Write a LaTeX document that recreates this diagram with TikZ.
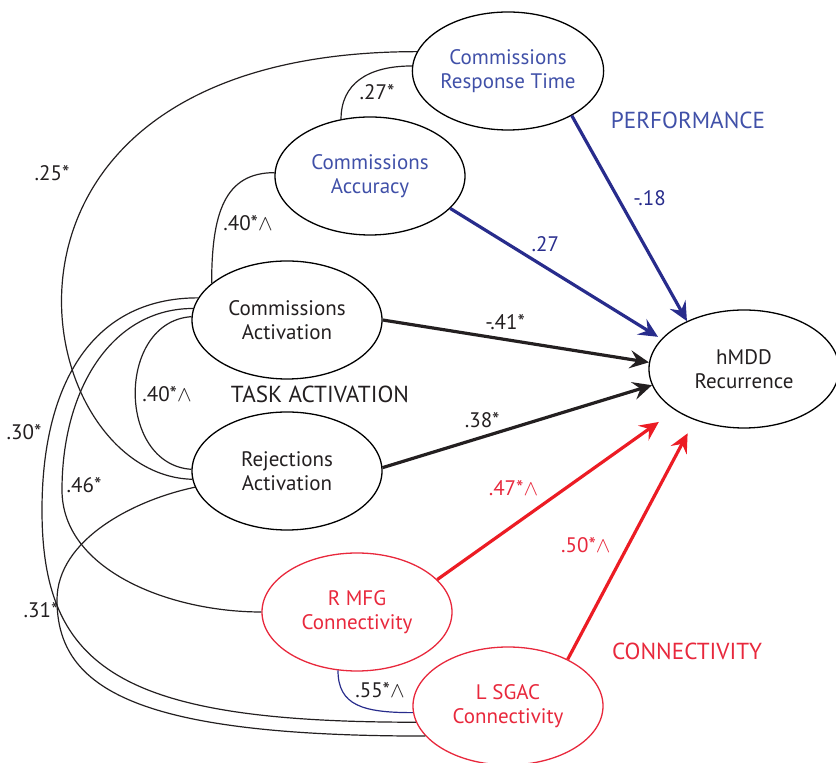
\documentclass[tikz,border=0pt]{standalone}
\usepackage{fontspec}
\setmainfont{PT Sans}
\usetikzlibrary{shapes.geometric,arrows.meta}
\definecolor{perfblue}{RGB}{64,80,168}
\definecolor{arrowblue}{RGB}{40,44,140}
\definecolor{connred}{RGB}{232,40,60}
\definecolor{arrowred}{RGB}{236,28,36}
\definecolor{textgray}{RGB}{35,31,32}
\newcommand{\sig}{\ensuremath{\wedge}}

\tikzset{
  latent/.style={ellipse, draw, line width=0.65pt, minimum width=95pt, minimum height=59pt,
    inner sep=0pt, align=center, text=textgray, font=\fontsize{10.5}{12}\selectfont},
  cov/.style={line width=0.6pt, textgray},
  effect/.style={line width=1.6pt, -{Stealth[length=9.5pt,width=9pt,inset=3.5pt]}},
  coef/.style={font=\fontsize{10.5}{12}\selectfont, text=textgray, inner sep=1pt},
  grouplabel/.style={font=\fontsize{11.6}{14}\selectfont},
}

\begin{document}
\begin{tikzpicture}[x=0.5pt,y=-0.5pt]
\useasboundingbox (0,0) rectangle (836,763);

% measured variables
\node[latent, text=perfblue] (crt) at (508,71) {Commissions\\Response Time};
\node[latent, text=perfblue] (ca) at (370,176) {Commissions\\Accuracy};
\node[latent] (cact) at (287,320) {Commissions\\Activation};
\node[latent] (ra) at (287,471) {Rejections\\Activation};
\node[latent] (hmdd) at (744,369) {hMDD\\Recurrence};
\node[latent, draw=connred, text=connred] (rmfg) at (357,612) {R MFG\\Connectivity};
\node[latent, draw=connred, text=connred] (lsgac) at (508,706) {L SGAC\\Connectivity};

% group labels
\node[grouplabel, text=perfblue] (perf) at (688,120) {PERFORMANCE};
\node[grouplabel, text=textgray] (task) at (320,394) {TASK ACTIVATION};
\node[grouplabel, text=connred] (conn) at (687,651) {CONNECTIVITY};

% paths to recurrence
\draw[effect, arrowblue] (crt.325) -- (hmdd.140)
  node[coef, text=arrowblue, pos=0.4, right=6pt] {-.18};
\draw[effect, arrowblue, shorten >=2pt] (ca.338) -- (hmdd.160)
  node[coef, text=arrowblue, pos=0.45, above=6pt] {.27};
\draw[effect, textgray] (cact.east) -- (hmdd.176)
  node[coef, pos=0.46, above=3pt] {-.41*};
\draw[effect, textgray] (ra.2) -- (hmdd.190)
  node[coef, pos=0.37, above=3pt] {.38*};
\draw[effect, arrowred, shorten >=10pt] (rmfg.22) -- (hmdd.211)
  node[coef, text=connred, pos=0.54, left=12pt] {.47*\sig};
\draw[effect, arrowred, shorten >=7.5pt] (lsgac.38) -- (hmdd.226)
  node[coef, text=connred, pos=0.476, left=7pt] {.50*\sig};

% correlations
\draw[cov] (crt.168) .. controls +(-473,0) and +(-167,-4) .. (ra.185);
\draw[cov] (crt.177) .. controls +(-45,0) and +(0,-35) .. (ca.117);
\draw[cov] (ca.178) .. controls +(-50,0) and +(0,-70) .. (cact.154);
\draw[cov] (cact.178) .. controls +(-75,5) and +(-75,-5) .. (ra.179);
\draw[cov] (cact.166) .. controls +(-110,0) and +(0,-120) .. (42,510)
  .. controls +(0,160) and +(-293,0) .. (lsgac.190);
\draw[cov] (cact.173) .. controls +(-82,0) and +(0,-100) .. (62,490)
  .. controls +(0,80) and +(-92,0) .. (rmfg.west);
\draw[cov] (ra.190) .. controls +(-62,13) and +(0,-60) .. (57,600)
  .. controls +(0,90) and +(-287,0) .. (lsgac.200);
\draw[cov, arrowblue] (rmfg.252) .. controls +(0,35) and +(-50,0) .. (lsgac.184);

% correlation values
\node[coef] (r25) at (52,173) {.25*};
\node[coef] (r27) at (377,92) {.27*};
\node[coef] (r40a) at (248,223) {.40*\sig};
\node[coef] (r40b) at (167,394) {.40*\sig};
\node[coef] (r30) at (24,432) {.30*};
\node[coef] (r46) at (84,485) {.46*};
\node[coef] (r31) at (41,610) {.31*};
\node[coef] (r55) at (380,690) {.55*\sig};
\end{tikzpicture}
\end{document}
